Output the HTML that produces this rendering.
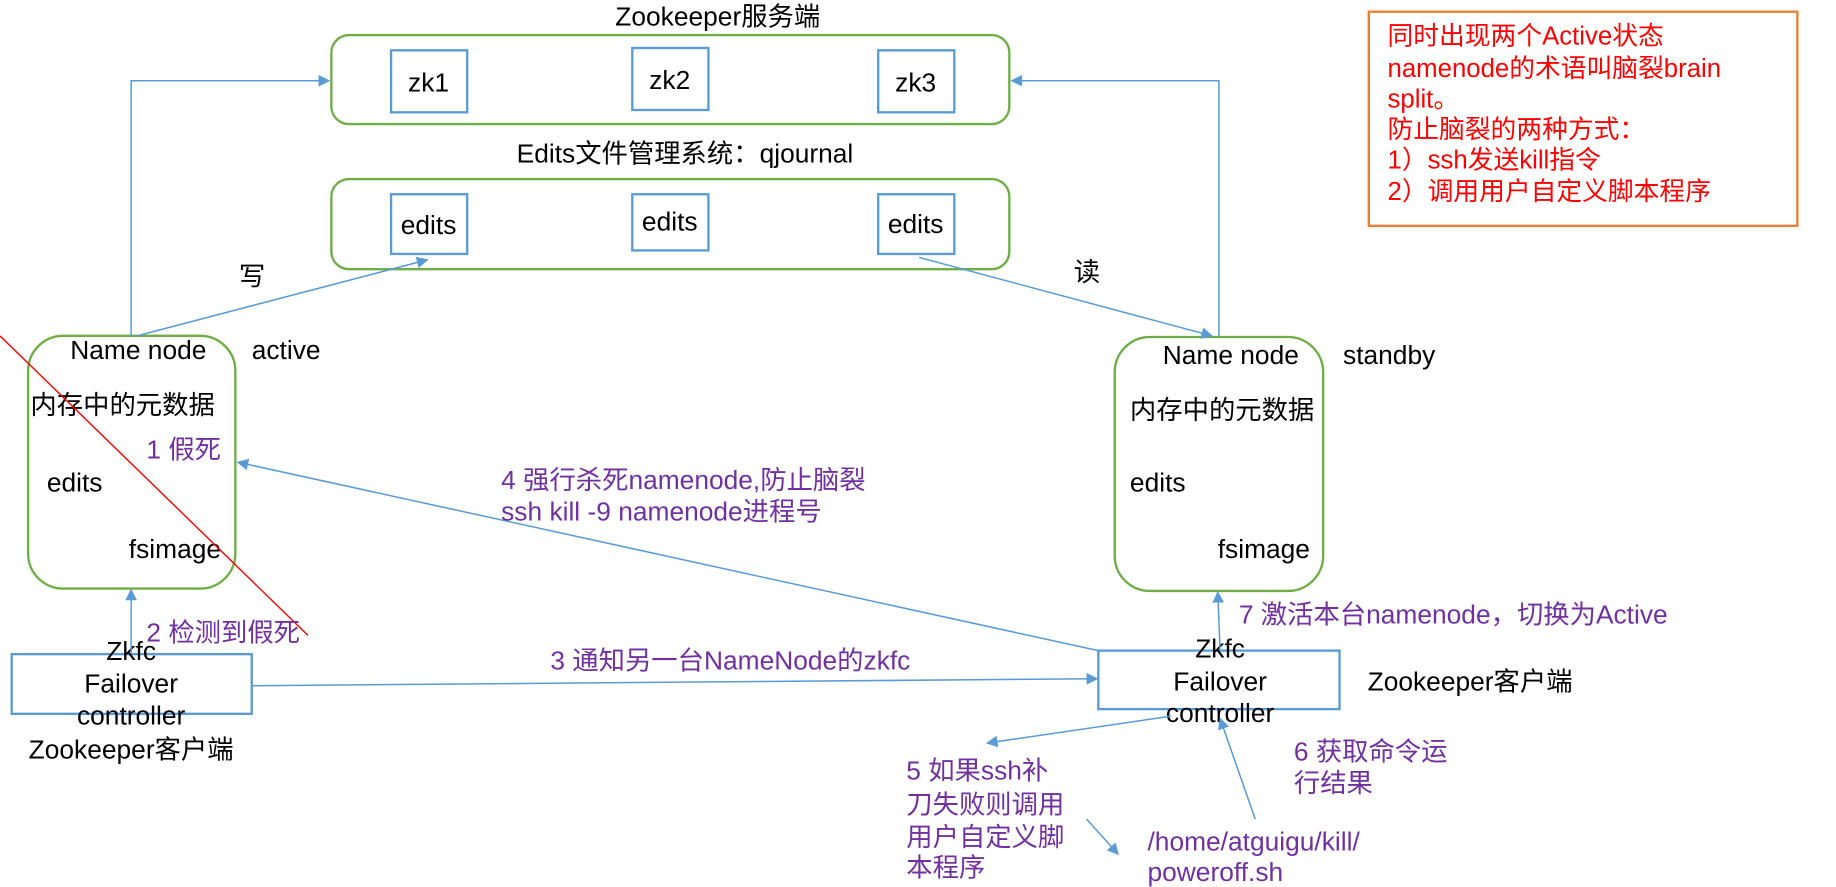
<!DOCTYPE html>
<html><head><meta charset="utf-8"><style>
html,body{margin:0;padding:0;background:#fff;overflow:hidden}
svg{display:block}
text{font-family:"Liberation Sans","Noto Sans CJK SC",sans-serif;font-size:22.5px;fill:#000}
.p{fill:#7030a0}
.r{fill:#ff0000;font-size:22px}
.g{fill:none;stroke:#70ad47;stroke-width:2}
.b{fill:#fff;stroke:#5b9bd5;stroke-width:2}
.l{fill:none;stroke:#5b9bd5;stroke-width:1.3}
</style></head><body>
<svg width="1836" height="887" viewBox="0 0 1568 758" preserveAspectRatio="none">
<defs><marker id="a" markerWidth="10" markerHeight="10" refX="9" refY="5" orient="auto" markerUnits="userSpaceOnUse"><path d="M0,0 L10,5 L0,10 Z" fill="#5b9bd5"/></marker></defs>
<text x="613" y="22" text-anchor="middle">Zookeeper服务端</text>
<rect class="g" x="283" y="30" width="579" height="76" rx="15"/>
<rect class="b" x="334" y="43" width="65" height="53"/><text x="366" y="78" text-anchor="middle">zk1</text>
<rect class="b" x="540" y="41" width="65" height="53"/><text x="572" y="76" text-anchor="middle">zk2</text>
<rect class="b" x="750" y="43" width="65" height="53"/><text x="782" y="78" text-anchor="middle">zk3</text>
<text x="585" y="139" text-anchor="middle">Edits文件管理系统：qjournal</text>
<rect class="g" x="283" y="153" width="579" height="77" rx="15"/>
<rect class="b" x="334" y="166" width="65" height="51"/><text x="366" y="200" text-anchor="middle">edits</text>
<rect class="b" x="540" y="166" width="65" height="48"/><text x="572" y="197" text-anchor="middle">edits</text>
<rect class="b" x="750" y="166" width="65" height="51"/><text x="782" y="199" text-anchor="middle">edits</text>
<text x="204" y="244">写</text><text x="917" y="240">读</text>
<rect class="g" x="24" y="287" width="177" height="216" rx="30"/>
<text x="60" y="307">Name node</text><text x="215" y="307">active</text>
<text x="26" y="354">内存中的元数据</text>
<text x="125" y="392" class="p">1 假死</text>
<text x="40" y="420">edits</text><text x="110" y="477">fsimage</text>
<line x1="0" y1="287" x2="263" y2="543" stroke="#ff0000" stroke-width="1.2"/>
<rect class="g" x="952" y="288" width="178" height="217" rx="30"/>
<text x="993" y="311">Name node</text><text x="1147" y="311">standby</text>
<text x="965" y="358">内存中的元数据</text>
<text x="965" y="420">edits</text><text x="1040" y="477">fsimage</text>
<polyline class="l" points="112,287 112,69 281,69" marker-end="url(#a)"/>
<polyline class="l" points="1041,287 1041,69 864,69" marker-end="url(#a)"/>
<line class="l" x1="117" y1="287" x2="365" y2="222" marker-end="url(#a)"/>
<line class="l" x1="785" y1="220" x2="1035" y2="287" marker-end="url(#a)"/>
<rect class="b" x="10" y="559" width="205" height="51"/>
<text x="112" y="564" text-anchor="middle">Zkfc</text>
<text x="112" y="592" text-anchor="middle">Failover</text>
<text x="112" y="619" text-anchor="middle">controller</text>
<text x="112" y="648" text-anchor="middle">Zookeeper客户端</text>
<line class="l" x1="112" y1="558" x2="112" y2="504" marker-end="url(#a)"/>
<text x="125" y="548" class="p">2 检测到假死</text>
<line class="l" x1="215" y1="586" x2="937" y2="580" marker-end="url(#a)"/>
<text x="470" y="572" class="p">3 通知另一台NameNode的zkfc</text>
<rect class="b" x="938" y="556" width="206" height="50"/>
<text x="1042" y="562" text-anchor="middle">Zkfc</text>
<text x="1042" y="590" text-anchor="middle">Failover</text>
<text x="1042" y="617" text-anchor="middle">controller</text>
<text x="1168" y="590">Zookeeper客户端</text>
<line class="l" x1="938" y1="556" x2="203" y2="395" marker-end="url(#a)"/>
<text x="428" y="418" class="p">4 强行杀死namenode,防止脑裂</text>
<text x="428" y="445" class="p">ssh kill -9 namenode进程号</text>
<line class="l" x1="1042" y1="556" x2="1040" y2="506" marker-end="url(#a)"/>
<text x="1058" y="533" class="p">7 激活本台namenode，切换为Active</text>
<line class="l" x1="1000" y1="612" x2="843" y2="635" marker-end="url(#a)"/>
<text x="774" y="666" class="p">5 如果ssh补</text>
<text x="774" y="695" class="p">刀失败则调用</text>
<text x="774" y="723" class="p">用户自定义脚</text>
<text x="774" y="749" class="p">本程序</text>
<line class="l" x1="928" y1="700" x2="955" y2="730" marker-end="url(#a)"/>
<text x="980" y="727" class="p">/home/atguigu/kill/</text>
<text x="980" y="753" class="p">poweroff.sh</text>
<line class="l" x1="1072" y1="700" x2="1042" y2="614" marker-end="url(#a)"/>
<text x="1105" y="650" class="p">6 获取命令运</text>
<text x="1105" y="677" class="p">行结果</text>
<rect x="1169" y="10" width="366" height="183" fill="#fff" stroke="#ed7d31" stroke-width="2"/>
<text class="r" x="1185" y="38">同时出现两个Active状态</text>
<text class="r" x="1185" y="66">namenode的术语叫脑裂brain</text>
<text class="r" x="1185" y="92">split。</text>
<text class="r" x="1185" y="118">防止脑裂的两种方式：</text>
<text class="r" x="1185" y="144">1）ssh发送kill指令</text>
<text class="r" x="1185" y="171">2）调用用户自定义脚本程序</text>
</svg>
</body></html>
